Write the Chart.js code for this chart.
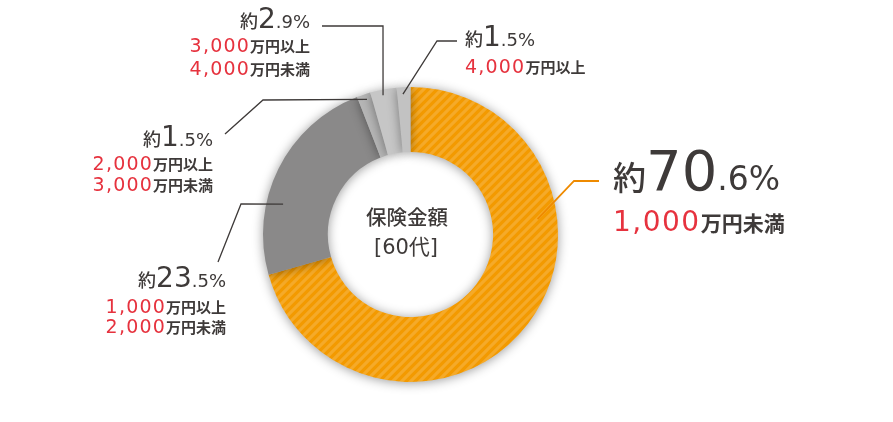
<!DOCTYPE html>
<html><head><meta charset="utf-8">
<script src="https://cdn.jsdelivr.net/npm/chart.js@4"></script>
<style>html,body{margin:0;padding:0;background:#fff;}</style>
</head><body>
<canvas id="c" width="893" height="422" style="width:893px;height:422px;display:block"></canvas>
<script>
// ---- data ----
const categories = ['1,000万円未満', '1,000万円以上2,000万円未満', '2,000万円以上3,000万円未満', '3,000万円以上4,000万円未満', '4,000万円以上'];
const values = [70.6, 23.5, 1.5, 2.9, 1.5];
const percentLabels = ['70.6', '23.5', '1.5', '2.9', '1.5'];
const amountLines = [
  [['1,000', '万円未満']],
  [['1,000', '万円以上'], ['2,000', '万円未満']],
  [['2,000', '万円以上'], ['3,000', '万円未満']],
  [['3,000', '万円以上'], ['4,000', '万円未満']],
  [['4,000', '万円以上']]
];
const centerTitle = ['保険金額', '[60代]'];

// ---- styles / layout ----
const DARK = '#3e3a39';
const RED = '#e6323e';
function stripePattern() {
  const s = 9, c = document.createElement('canvas');
  c.width = s; c.height = s;
  const g = c.getContext('2d');
  g.fillStyle = '#f39a00'; g.fillRect(0, 0, s, s);
  g.strokeStyle = 'rgba(255,255,255,0.16)'; g.lineWidth = 3.2;
  g.beginPath();
  g.moveTo(-1, s + 1); g.lineTo(s + 1, -1);
  g.moveTo(-s / 2 - 1, s / 2 + 1); g.lineTo(s / 2 + 1, -s / 2 - 1);
  g.moveTo(s / 2 - 1, s * 1.5 + 1); g.lineTo(s * 1.5 + 1, s / 2 - 1);
  g.stroke();
  return g.createPattern(c, 'repeat');
}
const colors = [stripePattern(), '#8a8989', '#b6b6b6', '#c6c6c6', '#c2c2c2'];

const labelLayout = [
  { frac: 0.327, r: 128, pts: [[163.5, -53.5], [188.5, -53.5]], line: '#ee8a00', align: 'left', x: 202.5, ys: [-44.5, -3.5], big: true },
  { frac: 0.346, r: 131, pts: [[-169.5, -30.5], [-192.5, 27.5]], line: DARK, align: 'right', x: -184.5, ys: [52.5, 78.5, 98.5] },
  { frac: 0.63, r: 142, pts: [[-147.5, -134.5], [-185.5, -100.5]], line: DARK, align: 'right', x: -197.5, ys: [-88.5, -64.5, -43.5] },
  { frac: 0.45, r: 142, pts: [[-27.5, -208.5], [-88.5, -208.5]], line: DARK, align: 'right', x: -100.5, ys: [-206.5, -182.5, -159.5] },
  { frac: 0.43, r: 140.5, pts: [[26.5, -193.5], [46.5, -193.5]], line: DARK, align: 'left', x: 54.5, ys: [-188.5, -161.5] }
];
const JP = '"Noto Sans CJK JP"';
const NUM = '"DejaVu Sans", "Liberation Sans", sans-serif';
const fontsBig = { yaku: '500 33px ' + JP, int: '400 56px ' + NUM, dec: '400 33px ' + NUM, amt: '400 28px ' + NUM, unit: 'bold 21px ' + JP, amtLS: '1.5px' };
const fontsSmall = { yaku: '500 18px ' + JP, int: '400 28px ' + NUM, dec: '400 18px ' + NUM, amt: '400 19px ' + NUM, unit: 'bold 15px ' + JP, amtLS: '1.2px' };

function drawRun(ctx, pieces, x, y, align) {
  let total = 0;
  pieces.forEach(p => { ctx.font = p.font; ctx.letterSpacing = p.ls || '0px'; p.w = ctx.measureText(p.text).width; total += p.w; });
  let cx = align === 'right' ? x - total : x;
  pieces.forEach(p => {
    ctx.font = p.font; ctx.letterSpacing = p.ls || '0px'; ctx.fillStyle = p.color;
    ctx.textAlign = 'left'; ctx.textBaseline = 'alphabetic';
    ctx.fillText(p.text, cx, y); cx += p.w;
  });
  ctx.letterSpacing = '0px';
}

const shadowPlugin = {
  id: 'shadow',
  beforeDatasetDraw(chart) {
    const ctx = chart.ctx; ctx.save();
    ctx.shadowColor = 'rgba(0,0,0,0.4)'; ctx.shadowBlur = 11; ctx.shadowOffsetX = 0; ctx.shadowOffsetY = 1;
  },
  afterDatasetDraw(chart) { chart.ctx.restore(); }
};

const labelPlugin = {
  id: 'labels',
  afterDraw(chart) {
    const ctx = chart.ctx;
    const arcs = chart.getDatasetMeta(0).data;
    const cx = arcs[0].x, cy = arcs[0].y;
    ctx.save();
    arcs.forEach((arc, i) => {
      const L = labelLayout[i];
      const a = arc.startAngle + L.frac * (arc.endAngle - arc.startAngle);
      ctx.beginPath();
      ctx.moveTo(cx + L.r * Math.cos(a), cy + L.r * Math.sin(a));
      L.pts.forEach(p => ctx.lineTo(cx + p[0], cy + p[1]));
      ctx.strokeStyle = L.line; ctx.lineWidth = L.big ? 1.8 : 1.3; ctx.stroke();

      const f = L.big ? fontsBig : fontsSmall;
      const pl = percentLabels[i];
      const dot = pl.indexOf('.');
      const intPart = pl.slice(0, dot), decPart = pl.slice(dot) + '%';
      const x = cx + L.x;
      drawRun(ctx, [
        { text: '約', font: f.yaku, color: DARK },
        { text: intPart, font: f.int, color: DARK },
        { text: decPart, font: f.dec, color: DARK }
      ], x, cy + L.ys[0], L.align);
      amountLines[i].forEach((ln, k) => {
        drawRun(ctx, [
          { text: ln[0], font: f.amt, color: RED, ls: f.amtLS },
          { text: ln[1], font: f.unit, color: DARK }
        ], x, cy + L.ys[k + 1], L.align);
      });
    });
    ctx.fillStyle = DARK; ctx.textAlign = 'center'; ctx.textBaseline = 'alphabetic';
    ctx.font = '500 20.5px ' + JP;
    ctx.fillText(centerTitle[0], cx - 3.5, cy - 9.5);
    ctx.font = '400 21px "DejaVu Sans", ' + JP;
    ctx.fillText(centerTitle[1], cx - 4.5, cy + 19.5);
    ctx.restore();
  }
};

new Chart(document.getElementById('c'), {
  type: 'doughnut',
  data: { labels: categories, datasets: [{ data: values, backgroundColor: colors, borderWidth: 0, hoverOffset: 0 }] },
  options: {
    responsive: false, animation: false, events: [],
    cutout: '56%', rotation: 0,
    layout: { padding: { left: 263, right: 335, top: 87, bottom: 40 } },
    plugins: { legend: { display: false }, tooltip: { enabled: false } }
  },
  plugins: [shadowPlugin, labelPlugin]
});
</script>
</body></html>
